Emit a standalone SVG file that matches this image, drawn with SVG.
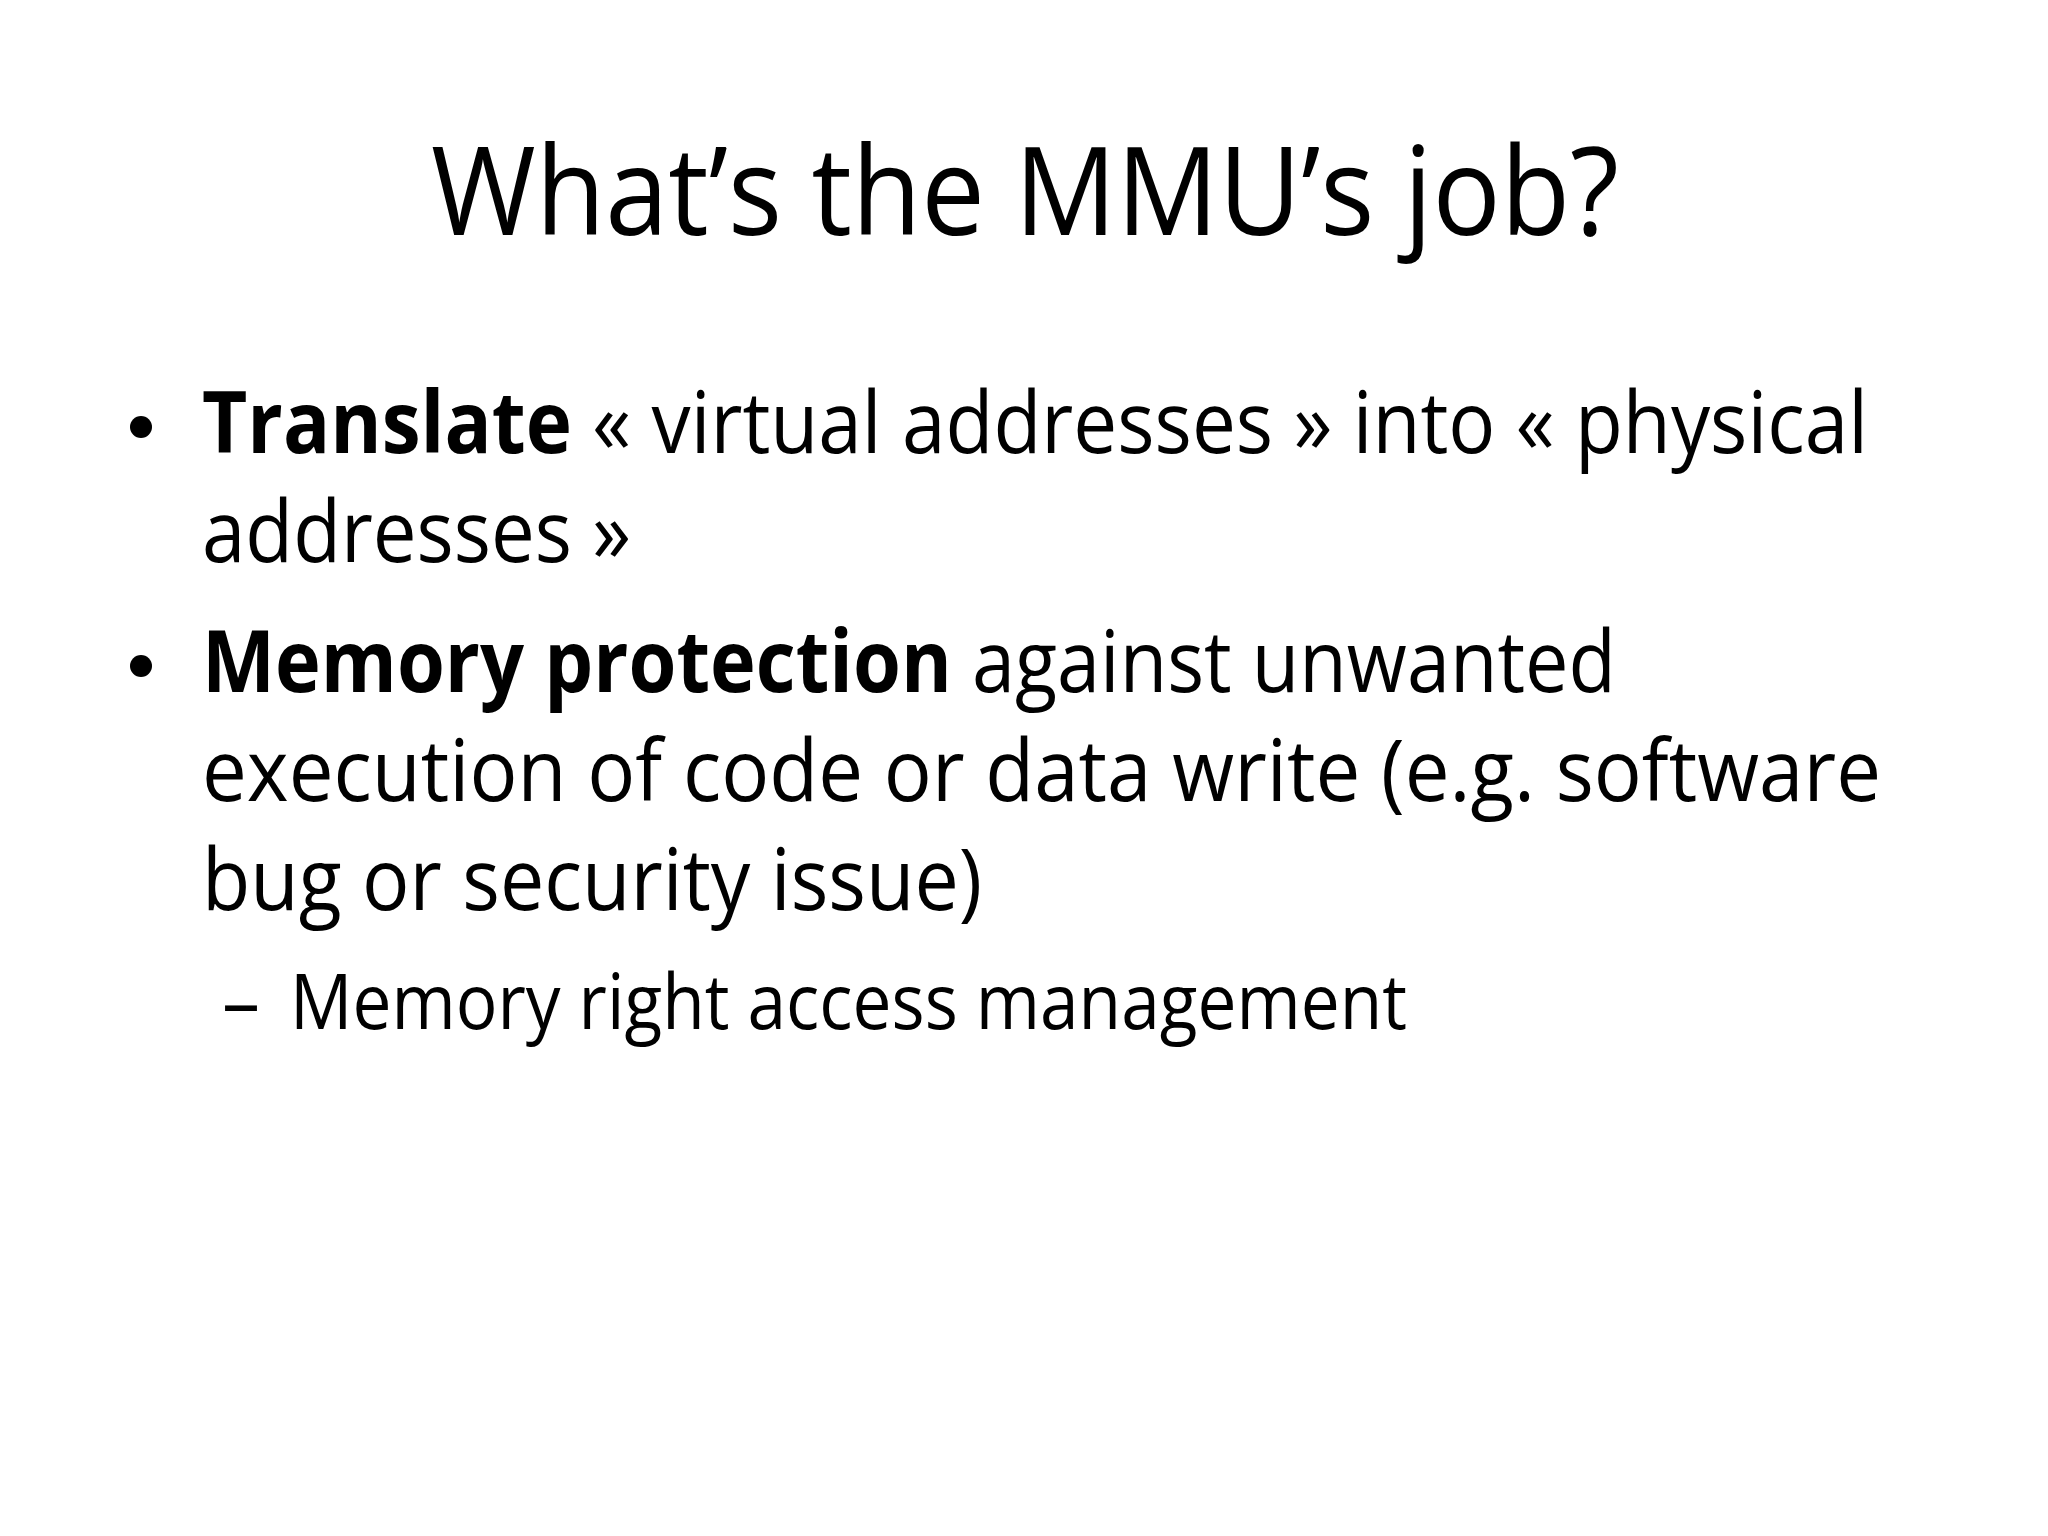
<svg xmlns="http://www.w3.org/2000/svg" width="2048" height="1536" viewBox="0 0 2048 1536">
<style>
text{font-family:"Open Sans","Noto Sans",sans-serif;fill:#000}
.t{font-size:122px}
.b{font-size:86px}
.s{font-size:76px}
.bd{font-weight:bold}
</style>
<rect width="2048" height="1536" fill="#fff"/>
<g id="title"><text class="t" x="431" y="235" textLength="1188" lengthAdjust="spacingAndGlyphs">What’s the MMU’s job?</text></g>
<g id="bullet1">
<circle cx="141" cy="427" r="11"/>
<text class="b" x="202" y="453" textLength="1666" lengthAdjust="spacingAndGlyphs"><tspan class="bd">Translate</tspan> « virtual addresses » into « physical</text>
<text class="b" x="202" y="562" textLength="429" lengthAdjust="spacingAndGlyphs">addresses »</text>
</g>
<g id="bullet2">
<circle cx="141" cy="666" r="11"/>
<text class="b" x="202" y="692" textLength="1414" lengthAdjust="spacingAndGlyphs"><tspan class="bd">Memory protection</tspan> against unwanted</text>
<text class="b" x="202" y="801" textLength="1679" lengthAdjust="spacingAndGlyphs">execution of code or data write (e.g. software</text>
<text class="b" x="202" y="910" textLength="780" lengthAdjust="spacingAndGlyphs">bug or security issue)</text>
</g>
<g id="sub1">
<text class="s" x="222" y="1029">–</text>
<text class="s" x="290" y="1029" textLength="1117" lengthAdjust="spacingAndGlyphs">Memory right access management</text>
</g>
</svg>
